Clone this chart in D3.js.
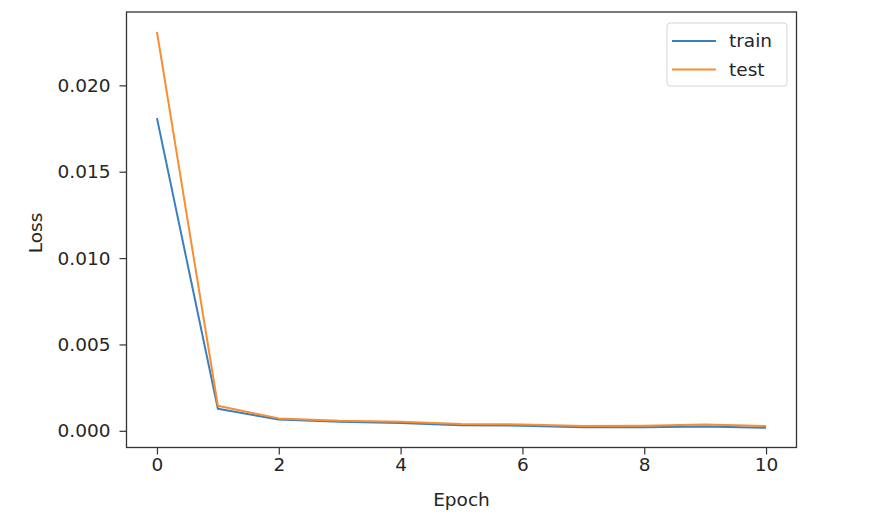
<!DOCTYPE html>
<html><head><meta charset="utf-8">
<script src="https://cdn.jsdelivr.net/npm/d3@7"></script>
<style>
html,body{margin:0;padding:0;background:#fff;}
svg{display:block;font-family:"DejaVu Sans",sans-serif;}
</style></head>
<body><svg id="chart" width="874" height="518"></svg>
<script>
const epochs = [0,1,2,3,4,5,6,7,8,9,10];
const trainLoss = [0.0181,0.00128,0.00065,0.00052,0.00045,0.00032,0.00030,0.00020,0.00021,0.00025,0.00018];
const testLoss  = [0.0231,0.00145,0.00072,0.00058,0.00052,0.00040,0.00037,0.00028,0.00030,0.00036,0.00028];
const xTicks = [0,2,4,6,8,10];
const yTicks = [0,0.005,0.010,0.015,0.020];
const seriesNames = ["train","test"];

const svg = d3.select("#chart");
const L=126.5, T=12, R=796.5, B=447.5;
const colors = ["#3a7fbf","#f98d30"];
const textCol = "#262626";
const fs = "18.5px";

const xPad = (d3.max(epochs)-d3.min(epochs))*0.05;
const x = d3.scaleLinear().domain([d3.min(epochs)-xPad, d3.max(epochs)+xPad]).range([L,R]);
const all = trainLoss.concat(testLoss);
const yMin=d3.min(all), yMax=d3.max(all), yPad=(yMax-yMin)*0.05;
const y = d3.scaleLinear().domain([yMin-yPad, yMax+yPad]).range([B,T]);

// lines
const line = d3.line().x((d,i)=>x(epochs[i])).y(d=>y(d));
[trainLoss,testLoss].forEach((s,k)=>{
  svg.append("path").attr("d",line(s)).attr("fill","none")
    .attr("stroke",colors[k]).attr("stroke-width",2).attr("stroke-linejoin","round");
});

// axes
const xAxis = d3.axisBottom(x).tickValues(xTicks).tickFormat(d3.format("d")).tickSize(7).tickPadding(3);
const yAxis = d3.axisLeft(y).tickValues(yTicks).tickFormat(d3.format(".3f")).tickSize(7).tickPadding(9);
const gx = svg.append("g").attr("transform",`translate(0,${B})`).call(xAxis);
const gy = svg.append("g").attr("transform",`translate(${L},0)`).call(yAxis);
[gx,gy].forEach(g=>{
  g.select(".domain").remove();
  g.selectAll(".tick line").attr("stroke","#333").attr("stroke-width",1.2);
  g.selectAll(".tick text").attr("fill",textCol).style("font-size",fs).style("font-family","DejaVu Sans");
});

// frame
svg.append("rect").attr("x",L).attr("y",T).attr("width",R-L).attr("height",B-T)
  .attr("fill","none").attr("stroke","#333").attr("stroke-width",1.3);

// labels
svg.append("text").attr("x",(L+R)/2).attr("y",506).attr("text-anchor","middle")
  .attr("fill",textCol).style("font-size",fs).text("Epoch");
svg.append("text").attr("transform",`translate(42,233) rotate(-90)`).attr("text-anchor","middle")
  .attr("fill",textCol).style("font-size",fs).text("Loss");

// legend
const lg = svg.append("g");
lg.append("rect").attr("x",667).attr("y",23).attr("width",120).attr("height",63).attr("rx",3)
  .attr("fill","#fff").attr("stroke","#d5d5d5").attr("stroke-width",1);
seriesNames.forEach((n,i)=>{
  const yy = 41 + i*28.5;
  lg.append("line").attr("x1",672).attr("x2",716).attr("y1",yy).attr("y2",yy)
    .attr("stroke",colors[i]).attr("stroke-width",2.2);
  lg.append("text").attr("x",729).attr("y",yy).attr("dy","0.35em").attr("fill",textCol)
    .style("font-size",fs).text(n);
});
</script></body></html>
